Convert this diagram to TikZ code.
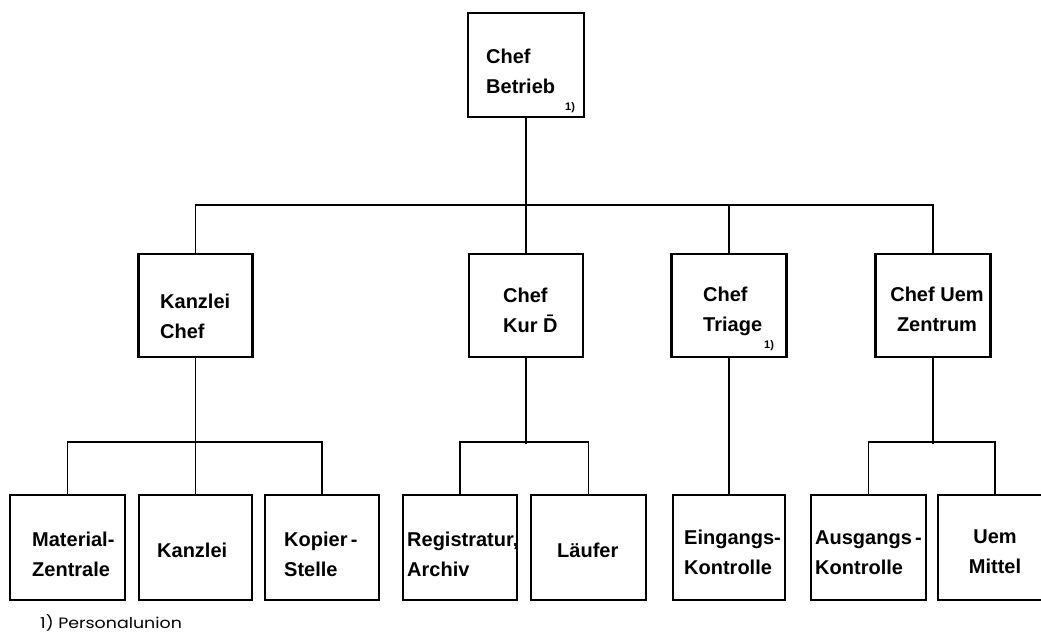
\documentclass[tikz,border=0pt]{standalone}
\usepackage{fontspec}
\setmainfont{Liberation Sans}
\newfontfamily\footfont{Poppins}
\begin{document}
\begin{tikzpicture}[x=1pt,y=-1pt,
  orgbox/.style={draw, line width=2.2pt, inner sep=0pt, minimum width=114pt, minimum height=104pt},
  conn/.style={line width=1.6pt},
  txt/.style={font=\bfseries\fontsize{20}{30}\selectfont, inner sep=0pt, anchor=base west, align=left},
  txtc/.style={font=\bfseries\fontsize{20}{30}\selectfont, inner sep=0pt, anchor=base, align=center},
  fn/.style={font=\bfseries\fontsize{11}{12}\selectfont, inner sep=0pt, anchor=base west}]
\useasboundingbox (0,0) rectangle (1041,634);
% top
\node[orgbox, minimum width=116pt] (top) at (526,65) {};
% second row
\node[orgbox, minimum height=103pt] (kc) at (195.5,305.5) {};
\node[orgbox, minimum height=103pt] (kd) at (526,305.5) {};
\node[orgbox, minimum height=103pt, minimum width=115pt] (tr) at (729,305.5) {};
\node[orgbox, minimum height=103pt, minimum width=115pt] (uz) at (933,305.5) {};
% bottom row
\node[orgbox, minimum height=105pt, minimum width=115pt] (mz) at (67.5,547.5) {};
\node[orgbox, minimum height=105pt, minimum width=113pt] (ka) at (195.5,547.5) {};
\node[orgbox, minimum height=105pt] (ks) at (322,547.5) {};
\node[orgbox, minimum height=105pt] (ra) at (460,547.5) {};
\node[orgbox, minimum height=105pt, minimum width=115pt] (lf) at (588.5,547.5) {};
\node[orgbox, minimum height=105pt, minimum width=112pt] (ek) at (729,547.5) {};
\node[orgbox, minimum height=105pt, minimum width=115pt] (ak) at (868.5,547.5) {};
\node[orgbox, minimum height=105pt] (um) at (995,547.5) {};
% connectors
\draw[conn] (top.south) -- (kd.north);
\draw[conn] (kc.north) -- ++(0,-48) -| (uz.north);
\draw[conn] (tr.north) -- ++(0,-48);
\draw[conn] (kc.south) -- ++(0,86);
\draw[conn] (mz.north) -- ++(0,-52) -| (ks.north);
\draw[conn] (ka.north) -- ++(0,-52);
\draw[conn] (kd.south) -- ++(0,86);
\draw[conn] (ra.north) -- ++(0,-52) -| (lf.north);
\draw[conn] (tr.south) -- (ek.north);
\draw[conn] (uz.south) -- ++(0,86);
\draw[conn] (ak.north) -- ++(0,-52) -| (um.north);
% texts (base = baseline of last line)
\node[txt] (ttop) at (486,93) {Chef\\Betrieb};
\node[fn] (ftop) at (565,110) {1)};
\node[txt] (tkc) at (160,338) {Kanzlei\\Chef};
\node[txt] (tkd) at (503,332) {Chef\\Kur \=D};
\node[txt] (ttr) at (703,331) {Chef\\Triage};
\node[fn] (ftr) at (764,348) {1)};
\node[txtc] (tuz) at (937,331) {Chef Uem\\Zentrum};
\node[txt] (tmz) at (32,576) {Material-\\Zentrale};
\node[txt] (tka) at (157,557) {Kanzlei};
\node[txt] (tks) at (284,576) {Kopier\,-\\Stelle};
\node[txt] (tra) at (407,576) {Registratur,\\Archiv};
\node[txt] (tlf) at (557,557) {Läufer};
\node[txt] (tek) at (684,574) {Eingangs-\\Kontrolle};
\node[txt] (tak) at (815,574) {Ausgangs\,-\\Kontrolle};
\node[txtc] (tum) at (995,573) {Uem\\Mittel};
\node[inner sep=0pt, anchor=base west, font=\footfont\fontsize{15}{16}\selectfont] (foot) at (40,628) {\scalebox{1.16}[1]{1) Personalunion}};
\end{tikzpicture}
\end{document}
